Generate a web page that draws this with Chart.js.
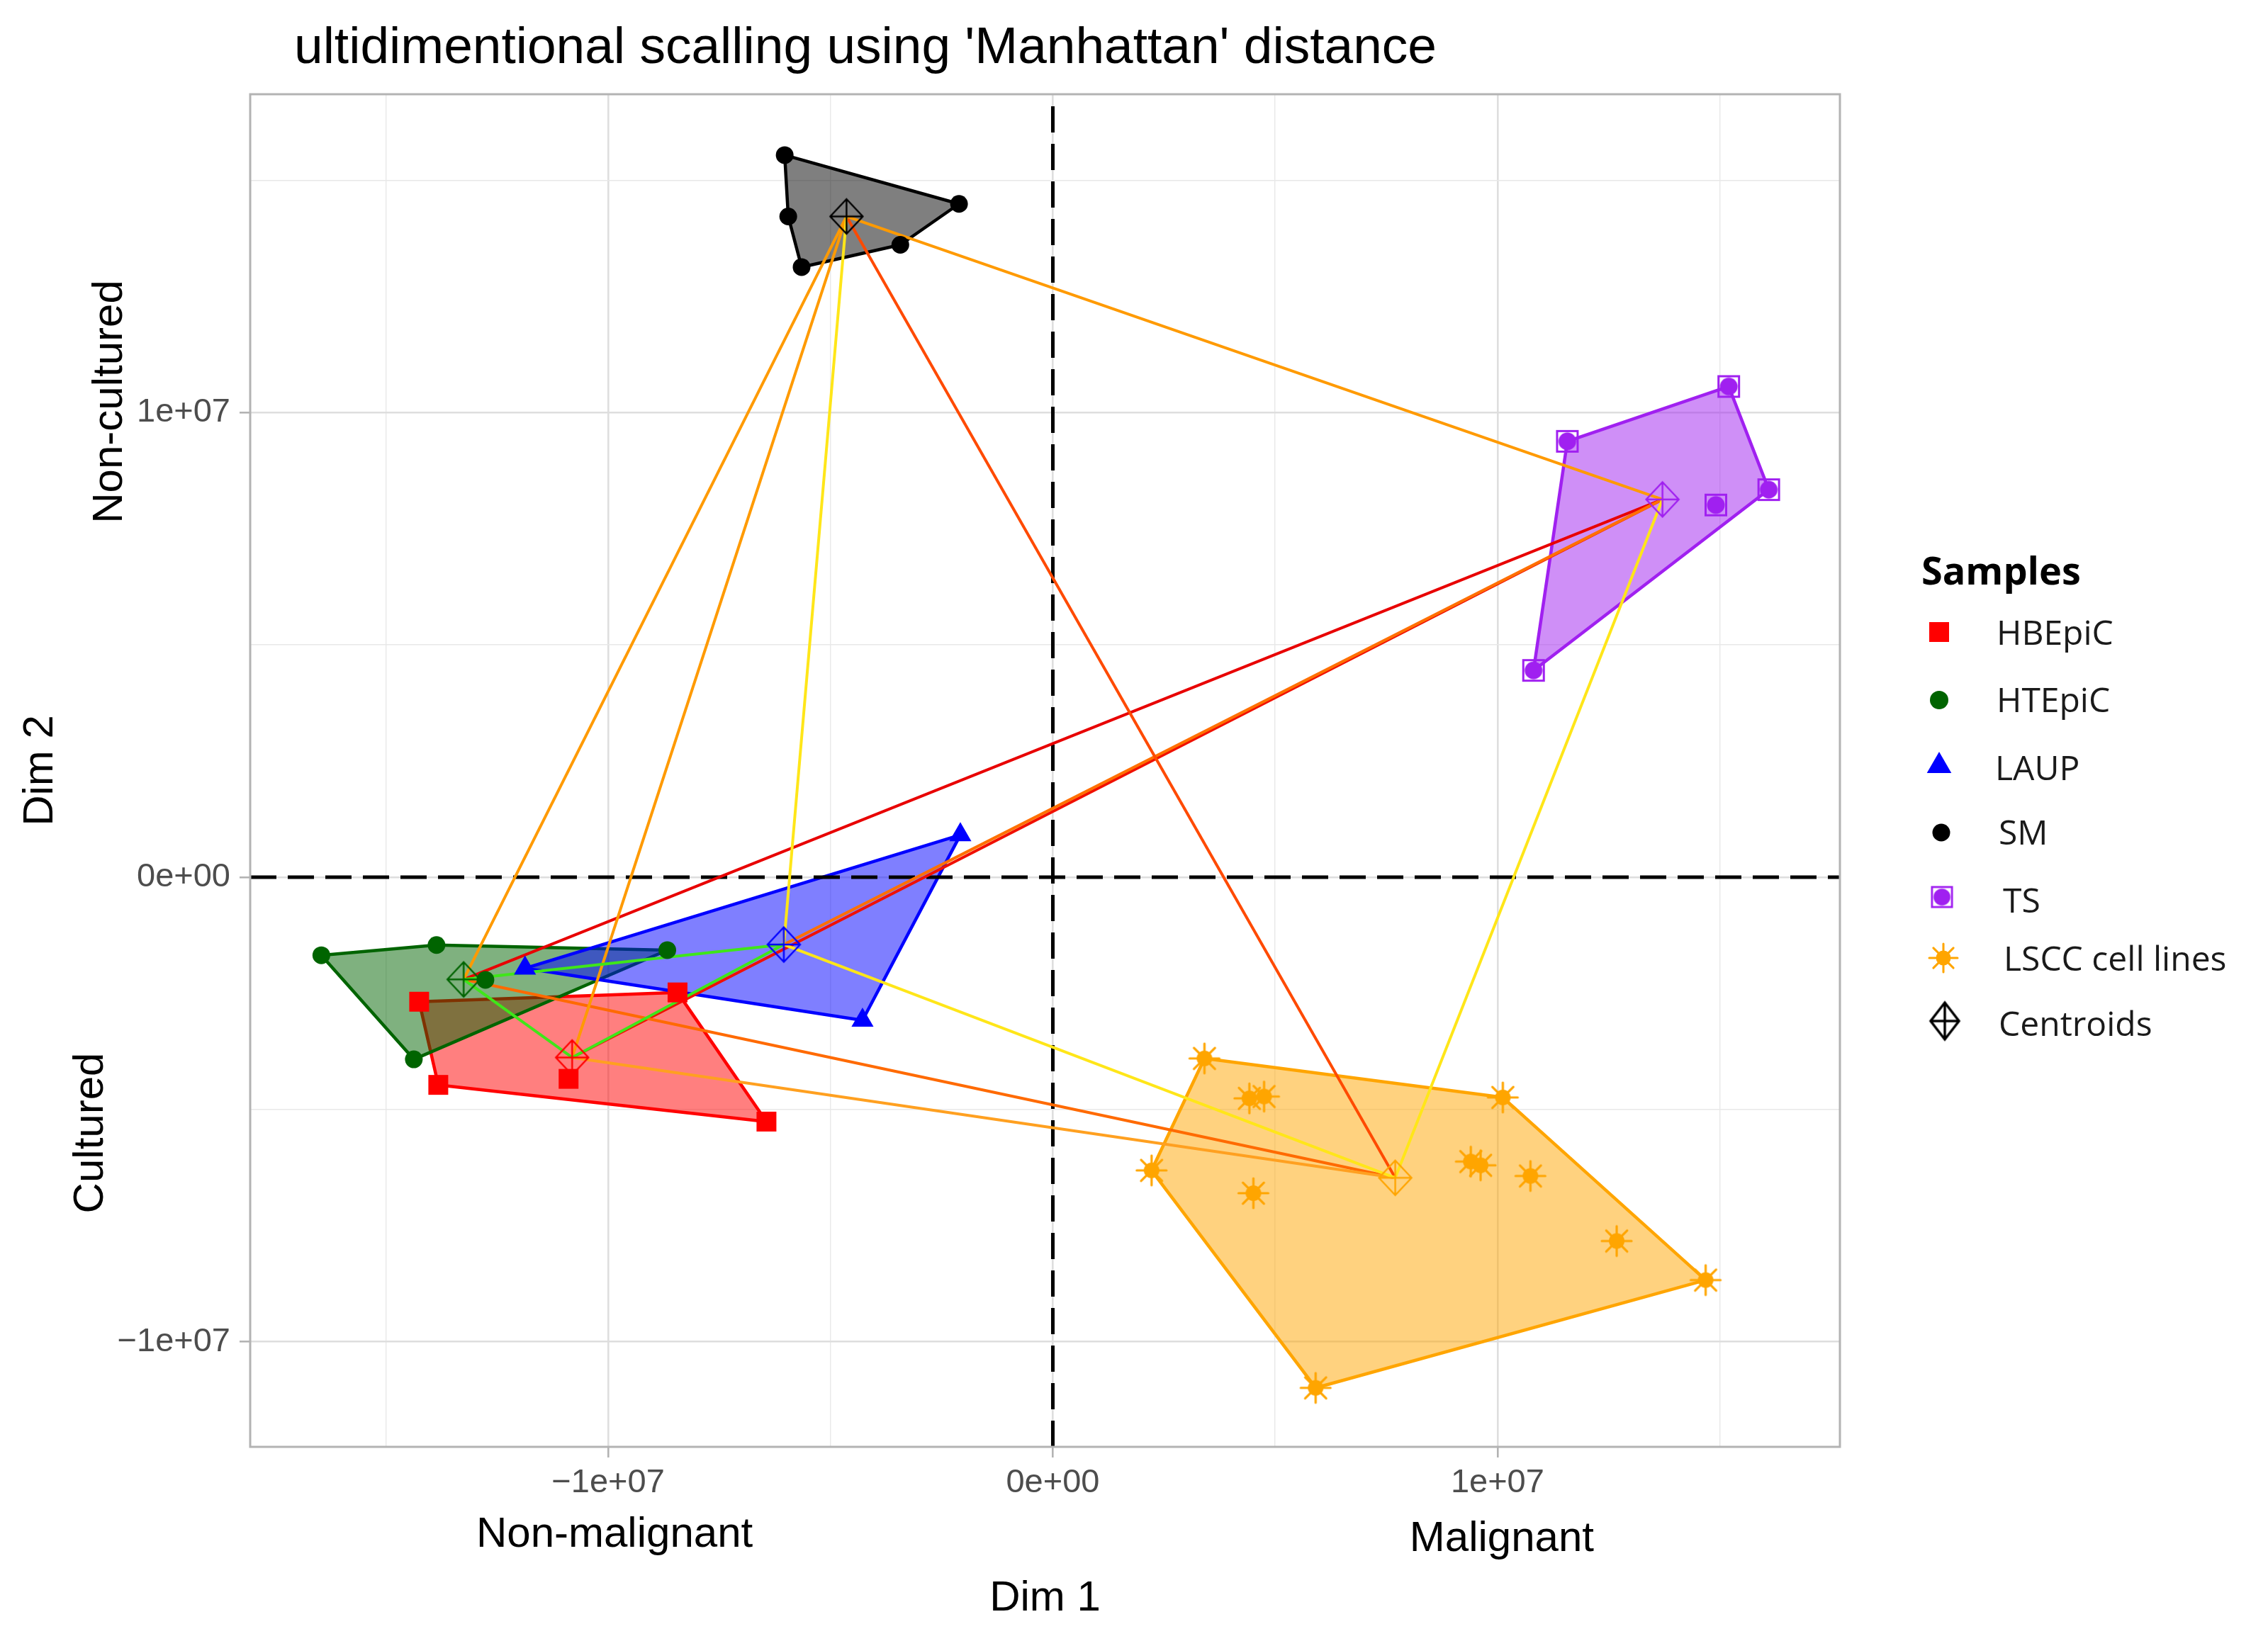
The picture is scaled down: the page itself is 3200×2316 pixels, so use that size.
<!DOCTYPE html>
<html>
<head>
<meta charset="utf-8">
<script src="https://cdn.jsdelivr.net/npm/chart.js@4.4.1/dist/chart.umd.min.js"></script>
<style>
html,body{margin:0;padding:0;background:#ffffff;}
canvas{display:block;}
</style>
</head>
<body>
<canvas id="c" width="3200" height="2316"></canvas>
<script>
// ---------------- DATA ----------------
const groupNames = ['HBEpiC', 'HTEpiC', 'LAUP', 'SM', 'TS', 'LSCC cell lines'];

const hbepicX = [-14.25e6, -8.44e6, -13.82e6, -10.89e6, -6.44e6];
const hbepicY = [-2.68e6, -2.48e6, -4.47e6, -4.34e6, -5.26e6];

const htepicX = [-16.45e6, -13.86e6, -8.67e6, -14.37e6, -12.76e6];
const htepicY = [-1.68e6, -1.46e6, -1.57e6, -3.92e6, -2.21e6];

const laupX = [-2.08e6, -11.87e6, -4.28e6];
const laupY = [0.91e6, -1.96e6, -3.08e6];

const smX = [-6.03e6, -5.95e6, -5.65e6, -3.43e6, -2.11e6];
const smY = [15.54e6, 14.22e6, 13.13e6, 13.61e6, 14.49e6];

const tsX = [15.20e6, 11.57e6, 16.10e6, 14.91e6, 10.81e6];
const tsY = [10.56e6, 9.38e6, 8.34e6, 8.01e6, 4.45e6];

const lsccX = [3.41e6, 4.42e6, 4.75e6, 10.12e6, 2.22e6, 9.40e6, 9.62e6, 10.74e6, 4.51e6, 12.68e6, 14.68e6, 5.91e6];
const lsccY = [-3.90e6, -4.76e6, -4.72e6, -4.74e6, -6.31e6, -6.12e6, -6.20e6, -6.43e6, -6.80e6, -7.83e6, -8.67e6, -10.99e6];

// centroids (same group order as groupNames)
const centroidX = [-10.81e6, -13.25e6, -6.05e6, -4.64e6, 13.71e6, 7.70e6];
const centroidY = [-3.88e6, -2.20e6, -1.45e6, 14.22e6, 8.13e6, -6.47e6];

// links between centroids (indices into groupNames)
const linkFrom = [1, 1, 0, 3, 2, 4, 3, 3, 3, 0, 1, 3, 2, 0, 1];
const linkTo   = [0, 2, 2, 2, 5, 5, 1, 0, 4, 5, 5, 5, 4, 4, 4];

// grid / tick values
const xGridValues = [-1.5e7, -1e7, -5e6, 0, 5e6, 1e7, 1.5e7];
const yGridValues = [-1e7, -5e6, 0, 5e6, 1e7, 1.5e7];
const xTickValues = [-1e7, 0, 1e7];
const xTickLabels = ['\u22121e+07', '0e+00', '1e+07'];
const yTickValues = [-1e7, 0, 1e7];
const yTickLabels = ['\u22121e+07', '0e+00', '1e+07'];

const titleText = "ultidimentional scalling using 'Manhattan' distance";
const xTitle = 'Dim 1';
const yTitle = 'Dim 2';
const xSideLabels = ['Non-malignant', 'Malignant'];
const ySideLabels = ['Non-cultured', 'Cultured'];
const legendTitle = 'Samples';
const centroidLabel = 'Centroids';

// ---------------- STYLE ----------------
const groupColors = ['#FF0000', '#006400', '#0000FF', '#000000', '#A020F0', '#FFA500'];
const groupFills  = ['rgba(255,0,0,0.5)', 'rgba(0,100,0,0.5)', 'rgba(0,0,255,0.5)', 'rgba(0,0,0,0.5)', 'rgba(160,32,240,0.5)', 'rgba(255,165,0,0.5)'];
const linkColors = ['#3FE619', '#3FE619', '#3FE619', '#FFE619', '#FFE619', '#FFE619',
                    '#FF9A00', '#FF9A00', '#FF9A00', '#FFA020', '#FF6A00', '#FF4A00',
                    '#FF7000', '#F01000', '#E80000'];
const X_MIN = -1.805e7, X_MAX = 1.770e7, Y_MIN = -1.226e7, Y_MAX = 1.685e7;
const SANS = '"Liberation Sans", Arial, sans-serif';
const LEG = '"Open Sans", "Liberation Sans", sans-serif';

Chart.defaults.font.family = SANS;

function makeCanvas(w, h, draw) {
  const c = document.createElement('canvas');
  c.width = w; c.height = h;
  draw(c.getContext('2d'), w, h);
  return c;
}
function starMarker(color, s) {
  s = s || 1;
  const W = Math.ceil(48 * s);
  return makeCanvas(W, W, (g) => {
    const c = W / 2;
    g.strokeStyle = color; g.lineWidth = 3.2 * s; g.lineCap = 'round';
    for (let k = 0; k < 8; k++) {
      const a = k * Math.PI / 4;
      g.beginPath(); g.moveTo(c, c);
      g.lineTo(c + 21 * s * Math.cos(a), c + 21 * s * Math.sin(a)); g.stroke();
    }
    g.fillStyle = color; g.beginPath(); g.arc(c, c, 11 * s, 0, Math.PI * 2); g.fill();
  });
}
function tsMarker(color, s) {
  s = s || 1;
  const W = Math.ceil(34 * s);
  return makeCanvas(W, W, (g) => {
    const c = W / 2;
    g.strokeStyle = color; g.lineWidth = 3 * s;
    g.strokeRect(2.5 * s, 2.5 * s, W - 5 * s, W - 5 * s);
    g.fillStyle = color; g.beginPath(); g.arc(c, c, 12.5 * s, 0, Math.PI * 2); g.fill();
  });
}
function centroidMarker(color, lw, rx, ry) {
  lw = lw || 2.4; rx = rx || 23; ry = ry || 24.5;
  const W = Math.ceil(2 * rx + 2 * lw + 2), H = Math.ceil(2 * ry + 2 * lw + 2);
  return makeCanvas(W, H, (g) => {
    const cx = W / 2, cy = H / 2;
    g.strokeStyle = color; g.lineWidth = lw; g.lineJoin = 'miter';
    g.beginPath();
    g.moveTo(cx, cy - ry); g.lineTo(cx + rx, cy); g.lineTo(cx, cy + ry); g.lineTo(cx - rx, cy); g.closePath();
    g.moveTo(cx, cy - ry); g.lineTo(cx, cy + ry);
    g.moveTo(cx - rx, cy); g.lineTo(cx + rx, cy);
    g.stroke();
  });
}

const pointStyles = ['rect', 'circle', 'triangle', 'circle', tsMarker('#A020F0'), starMarker('#FFA500')];
const pointRadii = [19.8, 12.5, 18, 12.5, 17, 24];

// ---------------- HELPERS ----------------
function zipPts(xs, ys) { return xs.map((x, i) => ({x: x, y: ys[i]})); }
function convexHull(pts) {
  const p = pts.slice().sort((a, b) => a.x - b.x || a.y - b.y);
  const cross = (o, a, b) => (a.x - o.x) * (b.y - o.y) - (a.y - o.y) * (b.x - o.x);
  const lower = [];
  for (const q of p) { while (lower.length >= 2 && cross(lower[lower.length - 2], lower[lower.length - 1], q) <= 0) lower.pop(); lower.push(q); }
  const upper = [];
  for (let i = p.length - 1; i >= 0; i--) { const q = p[i]; while (upper.length >= 2 && cross(upper[upper.length - 2], upper[upper.length - 1], q) <= 0) upper.pop(); upper.push(q); }
  upper.pop(); lower.pop();
  const h = lower.concat(upper);
  h.push(h[0]);
  return h;
}

const groupPoints = [
  zipPts(hbepicX, hbepicY), zipPts(htepicX, htepicY), zipPts(laupX, laupY),
  zipPts(smX, smY), zipPts(tsX, tsY), zipPts(lsccX, lsccY)
];

// ---------------- DATASETS ----------------
const datasets = [];
groupPoints.forEach((pts, i) => {
  datasets.push({
    type: 'line', label: groupNames[i] + ' hull', data: convexHull(pts),
    borderColor: groupColors[i], backgroundColor: groupFills[i], borderWidth: 4.5,
    fill: 'shape', pointRadius: 0, tension: 0, order: 60 - i, borderJoinStyle: 'round'
  });
});
datasets.push({
  type: 'line', label: 'zero-x', data: [{x: 0, y: Y_MIN}, {x: 0, y: Y_MAX}],
  borderColor: '#000000', borderWidth: 5, borderDash: [37, 16], pointRadius: 0, fill: false, order: 40
});
datasets.push({
  type: 'line', label: 'zero-y', data: [{x: X_MIN, y: 0}, {x: X_MAX, y: 0}],
  borderColor: '#000000', borderWidth: 5, borderDash: [37, 16], pointRadius: 0, fill: false, order: 40
});
linkFrom.forEach((a, k) => {
  const b = linkTo[k];
  datasets.push({
    type: 'line', label: groupNames[a] + ' - ' + groupNames[b],
    data: [{x: centroidX[a], y: centroidY[a]}, {x: centroidX[b], y: centroidY[b]}],
    borderColor: linkColors[k], borderWidth: 4, pointRadius: 0, fill: false, order: 30
  });
});
groupPoints.forEach((pts, i) => {
  datasets.push({
    type: 'scatter', label: groupNames[i], data: pts,
    pointStyle: pointStyles[i], pointRadius: pointRadii[i],
    backgroundColor: groupColors[i], borderColor: groupColors[i], borderWidth: 0, order: 20
  });
});
groupNames.forEach((n, i) => {
  datasets.push({
    type: 'scatter', label: n + ' centroid', data: [{x: centroidX[i], y: centroidY[i]}],
    pointStyle: centroidMarker(groupColors[i]), pointRadius: 24,
    backgroundColor: groupColors[i], borderWidth: 0, order: 10
  });
});

// ---------------- PLUGIN: extra text, border, legend ----------------
const isMajor = (v, list) => list.some(t => Math.abs(t - v) < 1);

const decorations = {
  id: 'decorations',
  afterDatasetsDraw(chart) {
    const {ctx, chartArea: a} = chart;
    ctx.save();
    ctx.strokeStyle = '#B3B3B3'; ctx.lineWidth = 3;
    ctx.strokeRect(a.left, a.top, a.right - a.left, a.bottom - a.top);
    ctx.restore();
  },
  afterDraw(chart) {
    const ctx = chart.ctx;
    const xs = chart.scales.x;
    ctx.save();
    // title
    ctx.fillStyle = '#000000';
    ctx.font = '73px ' + SANS;
    ctx.textBaseline = 'alphabetic';
    ctx.textAlign = 'left';
    const tw = ctx.measureText(titleText).width;
    ctx.save();
    ctx.translate(415, 89);
    ctx.scale(1612 / tw, 1);
    ctx.fillText(titleText, 0, 0);
    ctx.restore();

    // side labels on x
    ctx.textAlign = 'center';
    ctx.font = '60px ' + SANS;
    ctx.fillText(xSideLabels[0], xs.getPixelForValue(xTickValues[0]) + 9, 2183);
    ctx.fillText(xSideLabels[1], xs.getPixelForValue(xTickValues[2]) + 6, 2189);

    // side labels on y (rotated)
    ctx.save(); ctx.translate(172, 567); ctx.rotate(-Math.PI / 2);
    ctx.fillText(ySideLabels[0], 0, 0); ctx.restore();
    ctx.save(); ctx.translate(145, 1599); ctx.rotate(-Math.PI / 2);
    ctx.fillText(ySideLabels[1], 0, 0); ctx.restore();

    // legend
    ctx.textAlign = 'left';
    ctx.font = 'bold 54px ' + LEG;
    ctx.fillText(legendTitle, 2711, 825);

    const rowY = [892, 988, 1081, 1175, 1266, 1352, 1441];
    const baseY = [910, 1005, 1101, 1192, 1288, 1370, 1462];
    const symX = [2736, 2736, 2736, 2739, 2740, 2742, 2744];
    const txtX = [2817, 2817, 2815, 2820, 2826, 2827, 2820];
    const legStyles = ['rect', 'circle', 'triangle', 'circle', tsMarker('#A020F0', 0.95), starMarker('#FFA500', 0.95),
                       centroidMarker('#000000', 3.5, 20, 26)];
    const legRadii = [19.8, 13, 20, 12.5, 16, 21, 24];
    const legColors = groupColors.concat(['#000000']);
    const legLabels = groupNames.concat([centroidLabel]);
    ctx.font = '48px ' + LEG;
    for (let i = 0; i < legLabels.length; i++) {
      ctx.fillStyle = legColors[i];
      ctx.strokeStyle = legColors[i];
      Chart.helpers.drawPoint(ctx, {pointStyle: legStyles[i], radius: legRadii[i], rotation: 0, borderWidth: 0}, symX[i], rowY[i]);
      ctx.fillStyle = '#1a1a1a';
      ctx.fillText(legLabels[i], txtX[i], baseY[i]);
    }
    ctx.restore();
  }
};

// ---------------- CHART ----------------
const gridColor = (list) => (c) => (c.tick && isMajor(c.tick.value, list)) ? '#DEDEDE' : '#E8E8E8';
const gridWidth = (list) => (c) => (c.tick && isMajor(c.tick.value, list)) ? 2.6 : 1.4;
const tickCol = (list) => (c) => (c.tick && isMajor(c.tick.value, list)) ? '#B3B3B3' : 'rgba(0,0,0,0)';

new Chart(document.getElementById('c'), {
  type: 'scatter',
  data: {datasets: datasets},
  plugins: [decorations],
  options: {
    responsive: false,
    devicePixelRatio: 1,
    animation: false,
    events: [],
    layout: {padding: {top: 133, right: 604, bottom: 0, left: 0}},
    plugins: {legend: {display: false}, title: {display: false}, tooltip: {enabled: false}},
    scales: {
      x: {
        type: 'linear', min: X_MIN, max: X_MAX,
        afterBuildTicks: (s) => { s.ticks = xGridValues.map(v => ({value: v})); },
        afterFit: (s) => { s.height = 274; },
        border: {display: false},
        grid: {color: gridColor(xTickValues), lineWidth: gridWidth(xTickValues), tickColor: tickCol(xTickValues),
               tickLength: 15, tickWidth: 2.6, drawTicks: true},
        ticks: {
          autoSkip: false, maxRotation: 0, minRotation: 0, padding: 8,
          color: '#4D4D4D', font: {size: 47, family: SANS},
          callback: (v) => { const i = xTickValues.findIndex(t => Math.abs(t - v) < 1); return i >= 0 ? xTickLabels[i] : ''; }
        },
        title: {display: true, text: xTitle, color: '#000000', font: {size: 60, family: SANS}, padding: {top: 0, bottom: 24}}
      },
      y: {
        type: 'linear', min: Y_MIN, max: Y_MAX,
        afterBuildTicks: (s) => { s.ticks = yGridValues.map(v => ({value: v})); },
        afterFit: (s) => { s.width = 353; },
        border: {display: false},
        grid: {color: gridColor(yTickValues), lineWidth: gridWidth(yTickValues), tickColor: tickCol(yTickValues),
               tickLength: 15, tickWidth: 2.6, drawTicks: true},
        ticks: {
          autoSkip: false, padding: 13,
          color: '#4D4D4D', font: {size: 47, family: SANS},
          callback: (v) => { const i = yTickValues.findIndex(t => Math.abs(t - v) < 1); return i >= 0 ? yTickLabels[i] : ''; }
        },
        title: {display: true, text: yTitle, color: '#000000', font: {size: 60, family: SANS}, padding: {top: 21, bottom: 0}}
      }
    }
  }
});
</script>
</body>
</html>
